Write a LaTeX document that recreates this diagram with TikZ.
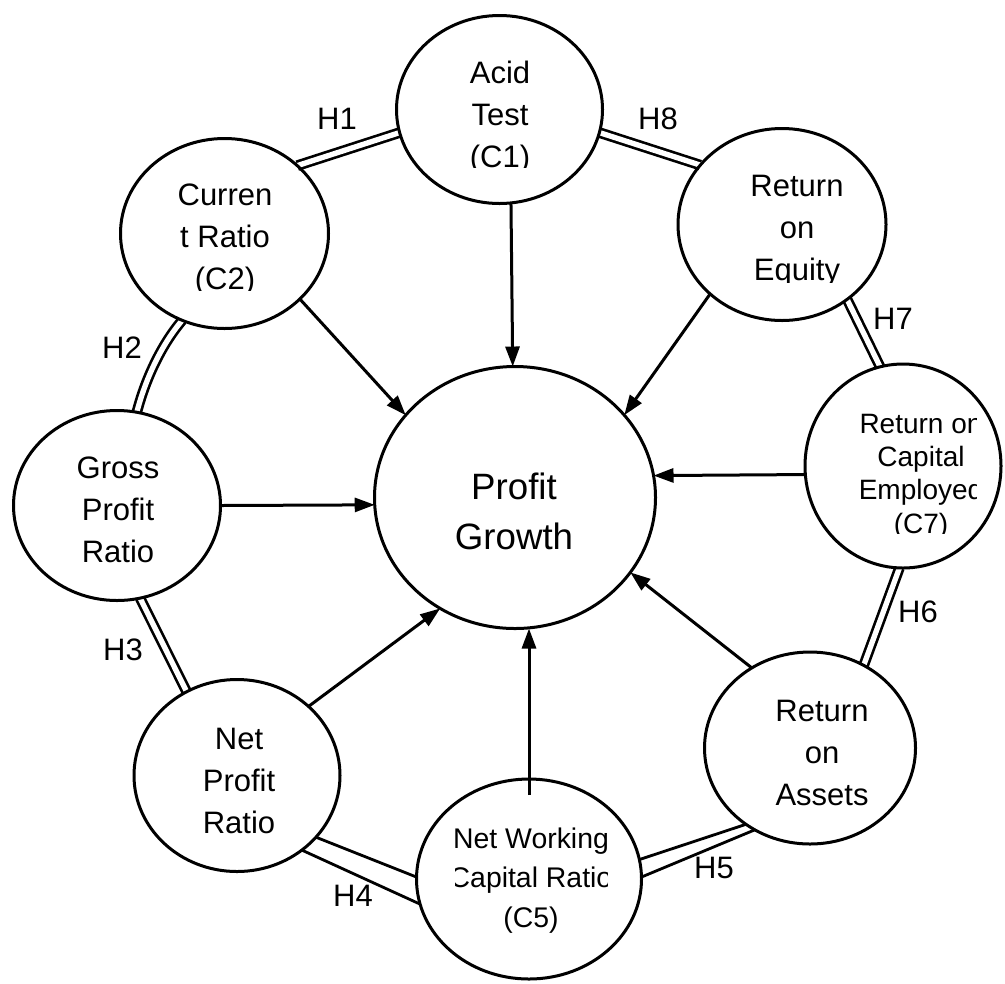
\documentclass[tikz,border=0pt]{standalone}
\usepackage{fontspec}
\setmainfont{Liberation Sans}
\usetikzlibrary{shapes.geometric,arrows.meta,backgrounds}
\begin{document}
\begin{tikzpicture}[x=0.75pt,y=-0.75pt,
  circ/.style={ellipse, draw, line width=2.25pt, inner sep=0pt, outer sep=0pt},
  arr/.style={line width=2.25pt, -{Triangle[length=15pt,width=10.5pt]}},
  dbl/.style={double, double distance=4pt, line width=2pt},
  lnk/.style={line width=2.1pt},
  txt/.style={align=center, inner sep=0pt, anchor=base, font=\fontsize{23.25}{31.5}\selectfont},
  hl/.style={inner sep=0pt, anchor=base, font=\fontsize{23.25}{28}\selectfont}]
\useasboundingbox (0,0) rectangle (1005,983);
% ellipses
\node[circ, minimum width=154.5pt, minimum height=141pt] (c1) at (499.5,109.5) {};
\node[circ, minimum width=156pt, minimum height=142.5pt] (cr) at (224.5,233.5) {};
\node[circ, minimum width=156pt, minimum height=144pt] (roe) at (782,224.5) {};
\node[circ, minimum width=147pt, minimum height=153pt] (roce) at (903,466) {};
\node[circ, minimum width=155.25pt, minimum height=142.5pt] (gross) at (117,505.5) {};
\node[circ, minimum width=210.75pt, minimum height=196.5pt] (pg) at (515,497.5) {};
\node[circ, minimum width=154.5pt, minimum height=144pt] (np) at (237,775.5) {};
\node[circ, minimum width=158.25pt, minimum height=144pt] (roa) at (810,748) {};
\node[circ, minimum width=168.75pt, minimum height=150pt] (nwc) at (529,879) {};
% texts (anchor = baseline of the last line)
\begin{scope}
\clip (380,40) rectangle (620,167);
\node[txt] (c1t) at (500,167) {Acid\\Test\\(C1)};
\end{scope}
\begin{scope}
\clip (100,160) rectangle (350,290);
\node[txt] (crt) at (225,289) {Curren\\t Ratio\\(C2)};
\end{scope}
\begin{scope}
\clip (700,150) rectangle (900,282);
\node[txt] (roet) at (797,280) {Return\\on\\Equity};
\end{scope}
\begin{scope}
\clip (820,390) rectangle (976,533);
\node[txt, font=\fontsize{21}{25}\selectfont] (rocet) at (921,533) {Return on\\Capital\\Employed\\(C7)};
\end{scope}
\node[txt] (grosst) at (118,562) {Gross\\Profit\\Ratio};
\node[txt, font=\fontsize{27.5}{37.5}\selectfont] (pgt) at (514,549) {Profit\\Growth};
\begin{scope}
\clip (150,700) rectangle (330,833);
\node[txt] (npt) at (239,833) {Net\\Profit\\Ratio};
\end{scope}
\node[txt] (roat) at (822,805) {Return\\on\\Assets};
\begin{scope}
\clip (455,800) rectangle (607,960);
\node[txt, font=\fontsize{21.3}{29.6}\selectfont] (nwct) at (531,927) {Net Working\\Capital Ratio\\(C5)};
\end{scope}
% arrows
\draw[arr] (c1.-83) -- (pg.91);
\draw[arr] (cr.-41) -- (pg.143);
\draw[arr] (roe.-136) -- (pg.37);
\draw[arr] (gross.0) -- (pg.183);
\draw[arr] (roce.185) -- (pg.9);
\draw[arr] (roa.126) -- (pg.-33);
\draw[arr] (np.44) -- (pg.-124);
\draw[arr, shorten <=-12pt] (nwc.north) -- (nwc.north |- pg.south);
% double links
\begin{scope}[on background layer]
\draw[dbl] (cr.43) -- (c1.193);
\draw[dbl] (c1.-13) -- (roe.144);
\draw[dbl] (roe.-49) -- (roce.103);
\draw[dbl] (roce.268) -- (roa.57);
\draw[dbl] (np.121) -- (gross.-76);
\draw[dbl] (gross.78) .. controls +(8,-31) and +(-22,26) .. (cr.244);
\end{scope}
% H4 and H5: two separate parallel strokes
\draw[lnk] (np.-38) -- (nwc.179);
\draw[lnk] (np.-49) -- (nwc.193);
\draw[lnk] (nwc.10) -- (roa.230);
\draw[lnk] (nwc.1) -- (roa.236);
% labels
\node[hl] (h1) at (337,129) {H1};
\node[hl] (h8) at (658,129) {H8};
\node[hl] (h7) at (893,329) {H7};
\node[hl] (h2) at (122,358) {H2};
\node[hl] (h3) at (123,660) {H3};
\node[hl] (h4) at (353,906) {H4};
\node[hl] (h5) at (714,878) {H5};
\node[hl] (h6) at (918,622) {H6};
\end{tikzpicture}
\end{document}
